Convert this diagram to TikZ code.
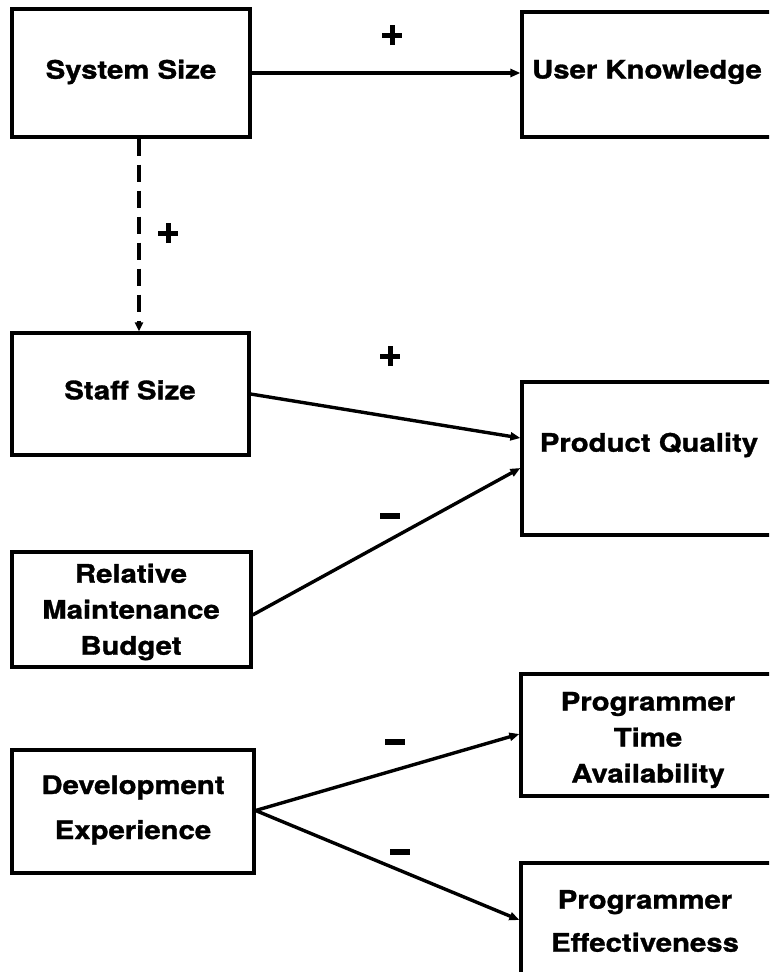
\documentclass[tikz,border=0pt]{standalone}
\usepackage{fontspec}
\setmainfont{TeX Gyre Heros}
\newfontfamily\boxfont[FakeStretch=1.15,FakeBold=1.2]{TeX Gyre Heros}
\usetikzlibrary{arrows.meta,calc}
\newcommand{\plussign}{\hbox{\rule[7.5pt]{20pt}{5pt}\kern-12.5pt\rule{5pt}{20pt}\kern7.5pt}}
\newcommand{\minussign}{\rule{20pt}{6pt}}
\begin{document}
\begin{tikzpicture}[x=1pt,y=-1pt,
  boxed/.style={draw,line width=3.2pt,inner sep=0pt},
  txt/.style={font=\boxfont\bfseries\fontsize{25.5}{36}\selectfont,align=center,inner sep=0pt},
  sign/.style={inner sep=0pt},
  conn/.style={line width=3.4pt,-{Triangle[length=10pt,width=8pt]}},
  dashconn/.style={line width=3.2pt,dash pattern=on 17pt off 9pt,-{Triangle[length=9pt,width=8pt]}}]
\useasboundingbox (0,0) rectangle (769,972);
\clip (0,0) rectangle (769,972);
% boxes
\node[boxed,minimum width=238pt,minimum height=128pt] (ss) at (131,73) {};
\node[boxed,minimum width=260pt,minimum height=125pt] (uk) at (652,74.5) {};
\node[boxed,minimum width=237pt,minimum height=122pt] (st) at (130.5,394) {};
\node[boxed,minimum width=260pt,minimum height=153pt] (pq) at (652,458.5) {};
\node[boxed,minimum width=239pt,minimum height=115pt] (rmb) at (131.5,609.5) {};
\node[boxed,minimum width=242pt,minimum height=123pt] (de) at (133,811.5) {};
\node[boxed,minimum width=261pt,minimum height=122pt] (pta) at (651.5,735) {};
\node[boxed,minimum width=261pt,minimum height=130pt] (pe) at (651.5,928) {};
% texts
\node[txt] (tss) at (131,72) {System Size};
\node[txt] (tuk) at (647,72) {User Knowledge};
\node[txt] (tst) at (130,390) {Staff Size};
\node[txt] (tpq) at (649,445) {Product Quality};
\node[txt] (trmb) at (131,612) {Relative\\Maintenance\\Budget};
\node[txt,font=\boxfont\bfseries\fontsize{25.5}{45}\selectfont] (tde) at (133,810) {Development\\Experience};
\node[txt] (tpta) at (648,740) {Programmer\\Time\\Availability};
\node[txt,font=\boxfont\bfseries\fontsize{25.5}{43}\selectfont] (tpe) at (645,921) {Programmer\\Effectiveness};
% connectors
\draw[conn] (ss.east) -- (ss.east -| uk.west);
\coordinate (dtop) at ($(ss.south)+(8,0)$);
\draw[dashconn] (dtop) -- (dtop |- st.north);
\coordinate (pq1) at ($(pq.west)+(0,-20.5)$);
\coordinate (pq2) at ($(pq.west)+(0,9.5)$);
\draw[conn] (st.east) -- (pq1);
\coordinate (rmbo) at ($(rmb.east)+(0,5.5)$);
\draw[conn] (rmbo) -- (pq2);
\coordinate (deo) at ($(de.east)+(0,-1)$);
\coordinate (ptai) at ($(pta.west)+(0,-1)$);
\coordinate (pei) at ($(pe.west)+(0,-8)$);
\draw[conn] (deo) -- (ptai);
\draw[conn] (deo) -- (pei);
% signs
\node[sign] (p1) at (392,35) {\plussign};
\node[sign] (p2) at (168,233) {\plussign};
\node[sign] (p3) at (390,356) {\plussign};
\node[sign] (m1) at (390,516) {\minussign};
\node[sign] (m2) at (395,742) {\minussign};
\node[sign] (m3) at (400,852) {\minussign};
\end{tikzpicture}
\end{document}
